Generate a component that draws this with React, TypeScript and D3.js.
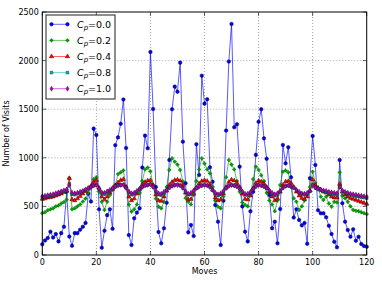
import React, { useEffect, useRef } from "react";
import * as d3 from "d3";

// x positions: one point per move
const moves = d3.range(0, 121);

// Cp = 0.0 (blue)
const cp00 = [
  110, 150, 175, 240, 180, 215, 140, 225, 290, 650, 190, 95, 225, 225, 260, 290, 330, 630, 550, 1300,
  1235, 470, 75, 250, 410, 470, 270, 1130, 1210, 1350, 1600, 1100, 205, 103, 378, 436, 480, 900, 1228, 1098,
  2089, 1502, 700, 237, 120, 275, 538, 978, 1500, 1732, 1680, 1979, 1166, 738, 233, 309, 195, 1139, 823, 1845,
  1557, 1602, 902, 754, 515, 343, 103, 559, 1280, 1990, 2377, 1314, 1345, 909, 500, 240, 140, 450, 650, 1030,
  1370, 1500, 1200, 990, 617, 275, 343, 120, 473, 1132, 943, 1108, 800, 385, 470, 360, 305, 330, 115, 790,
  1225, 926, 460, 429, 429, 388, 300, 216, 137, 79, 978, 532, 343, 257, 188, 264, 147, 188, 113, 93,
  85,
];

// Cp = 0.2 (green)
const cp02 = [
  430, 440, 460, 470, 480, 500, 510, 530, 545, 570, 790, 470, 480, 500, 520, 550, 580, 640, 700, 780,
  800, 650, 548, 463, 548, 617, 669, 720, 833, 850, 870, 700, 520, 446, 470, 520, 640, 760, 880, 900,
  860, 720, 580, 497, 480, 548, 700, 875, 995, 960, 930, 875, 757, 586, 548, 520, 620, 760, 880, 995,
  940, 880, 840, 700, 560, 497, 480, 600, 800, 978, 930, 880, 760, 650, 540, 515, 500, 620, 780, 909,
  875, 820, 760, 640, 560, 520, 450, 560, 720, 857, 870, 850, 700, 583, 548, 463, 500, 560, 620, 700,
  857, 740, 690, 600, 566, 600, 530, 497, 548, 540, 850, 610, 583, 548, 500, 463, 455, 450, 440, 430,
  420,
];

// Cp = 0.4 (red)
const cp04 = [
  575, 580, 590, 595, 600, 610, 620, 630, 645, 660, 790, 570, 560, 580, 605, 630, 655, 680, 710, 750,
  770, 690, 600, 570, 600, 640, 680, 715, 745, 770, 780, 700, 600, 560, 580, 630, 680, 720, 750, 765,
  770, 720, 620, 560, 555, 600, 660, 720, 750, 770, 775, 765, 720, 640, 570, 575, 630, 690, 735, 760,
  770, 760, 730, 670, 590, 560, 570, 630, 700, 750, 775, 765, 740, 700, 630, 575, 570, 610, 690, 740,
  765, 755, 735, 700, 650, 600, 560, 580, 650, 720, 755, 760, 740, 700, 650, 610, 585, 575, 600, 660,
  775, 715, 690, 670, 650, 640, 620, 600, 590, 590, 730, 650, 620, 600, 585, 575, 565, 555, 545, 535,
  525,
];

// Cp = 0.8 (cyan)
const cp08 = [
  595, 600, 605, 610, 615, 625, 635, 645, 655, 665, 730, 625, 620, 630, 640, 655, 670, 685, 700, 715,
  720, 675, 635, 625, 640, 660, 685, 700, 715, 720, 725, 690, 645, 620, 625, 650, 675, 700, 715, 720,
  730, 700, 650, 620, 615, 635, 665, 690, 710, 720, 725, 715, 690, 650, 620, 625, 655, 685, 705, 715,
  720, 715, 700, 665, 630, 610, 620, 650, 685, 710, 720, 715, 705, 680, 645, 620, 615, 640, 675, 705,
  720, 715, 705, 685, 660, 630, 610, 620, 655, 690, 710, 715, 705, 690, 665, 640, 625, 620, 630, 655,
  725, 690, 675, 665, 655, 645, 635, 630, 625, 620, 700, 655, 640, 630, 620, 612, 605, 600, 595, 590,
  585,
];

// Cp = 1.0 (magenta)
const cp10 = [
  605, 610, 615, 620, 625, 635, 645, 655, 665, 675, 720, 640, 635, 640, 650, 660, 675, 690, 700, 715,
  720, 680, 645, 640, 655, 670, 690, 705, 715, 720, 720, 690, 655, 635, 640, 660, 680, 700, 715, 720,
  725, 700, 660, 635, 630, 650, 670, 695, 710, 720, 720, 715, 690, 655, 630, 640, 665, 690, 705, 715,
  720, 715, 700, 670, 640, 625, 635, 660, 690, 710, 720, 715, 705, 685, 655, 630, 630, 650, 680, 705,
  720, 715, 705, 690, 665, 640, 625, 635, 660, 690, 710, 715, 710, 695, 670, 650, 635, 630, 640, 660,
  715, 695, 685, 675, 665, 660, 650, 645, 640, 635, 700, 665, 650, 640, 630, 625, 620, 615, 610, 605,
  600,
];

const cpLabels = ["0.0", "0.2", "0.4", "0.8", "1.0"];
const xTicks = [0, 20, 40, 60, 80, 100, 120];
const yTicks = [0, 500, 1000, 1500, 2000, 2500];

const App = () => {
  const chartRef = useRef<SVGSVGElement>(null);

  useEffect(() => {
    const width = 382;
    const height = 286;
    const margin = { top: 12, right: 15.3, bottom: 31, left: 42.3 };

    const svg = d3.select(chartRef.current);
    svg.selectAll("*").remove();

    svg.append("rect").attr("width", width).attr("height", height).attr("fill", "#fff");

    const x = d3.scaleLinear().domain([0, 120]).range([margin.left, width - margin.right]);
    const y = d3.scaleLinear().domain([0, 2500]).range([height - margin.bottom, margin.top]);

    const font = "DejaVu Sans, sans-serif";

    // grid
    const grid = svg.append("g").attr("stroke", "#000").attr("stroke-width", 0.5)
      .attr("stroke-dasharray", "1,2").attr("opacity", 0.7);
    xTicks.slice(1, -1).forEach((t) => {
      grid.append("line").attr("x1", x(t)).attr("x2", x(t))
        .attr("y1", y(0)).attr("y2", y(2500));
    });
    yTicks.slice(1, -1).forEach((t) => {
      grid.append("line").attr("x1", x(0)).attr("x2", x(120))
        .attr("y1", y(t)).attr("y2", y(t));
    });

    const series = [
      { values: cp00, color: "#0000ff", edge: "#000040", symbol: d3.symbolCircle, size: 10 },
      { values: cp02, color: "#00a000", edge: "#008000", symbol: d3.symbolCross, size: 6 },
      { values: cp04, color: "#ff0000", edge: "#400000", symbol: d3.symbolTriangle, size: 8 },
      { values: cp08, color: "#00bfbf", edge: "#003030", symbol: d3.symbolSquare, size: 7 },
      { values: cp10, color: "#bf00bf", edge: "#300030", symbol: d3.symbolDiamond, size: 7 },
    ];

    const line = d3.line<number>().x((_, i) => x(moves[i])).y((d) => y(d));

    series.forEach((s) => {
      const g = svg.append("g");
      g.append("path")
        .datum(s.values)
        .attr("fill", "none")
        .attr("stroke", s.color)
        .attr("stroke-opacity", 0.65)
        .attr("stroke-width", 1)
        .attr("d", line);
      const sym = d3.symbol().type(s.symbol).size(s.size);
      g.selectAll("path.mk")
        .data(s.values)
        .enter()
        .append("path")
        .attr("class", "mk")
        .attr("transform", (d, i) => `translate(${x(moves[i])},${y(d)})`)
        .attr("d", sym)
        .attr("fill", s.color)
        .attr("stroke", s.edge)
        .attr("stroke-width", 0.5);
    });

    // frame
    svg.append("rect")
      .attr("x", x(0)).attr("y", y(2500))
      .attr("width", x(120) - x(0)).attr("height", y(0) - y(2500))
      .attr("fill", "none").attr("stroke", "#000").attr("stroke-width", 1);

    // ticks (inward, on all sides)
    const ticks = svg.append("g").attr("stroke", "#000").attr("stroke-width", 0.6);
    xTicks.forEach((t) => {
      ticks.append("line").attr("x1", x(t)).attr("x2", x(t)).attr("y1", y(0)).attr("y2", y(0) - 4);
      ticks.append("line").attr("x1", x(t)).attr("x2", x(t)).attr("y1", y(2500)).attr("y2", y(2500) + 4);
      svg.append("text").attr("x", x(t)).attr("y", y(0) + 10)
        .attr("text-anchor", "middle").attr("font-family", font).attr("font-size", 8)
        .text(t);
    });
    yTicks.forEach((t) => {
      ticks.append("line").attr("x1", x(0)).attr("x2", x(0) + 4).attr("y1", y(t)).attr("y2", y(t));
      ticks.append("line").attr("x1", x(120)).attr("x2", x(120) - 4).attr("y1", y(t)).attr("y2", y(t));
      svg.append("text").attr("x", x(0) - 3.5).attr("y", y(t) + 3)
        .attr("text-anchor", "end").attr("font-family", font).attr("font-size", 8)
        .text(t);
    });

    // axis labels
    svg.append("text").attr("x", (x(0) + x(120)) / 2).attr("y", 274)
      .attr("text-anchor", "middle").attr("font-family", font).attr("font-size", 8)
      .text("Moves");
    svg.append("text")
      .attr("transform", `translate(9,${(y(0) + y(2500)) / 2}) rotate(-90)`)
      .attr("text-anchor", "middle").attr("font-family", font).attr("font-size", 8)
      .text("Number of Visits");

    // legend
    const lg = svg.append("g");
    lg.append("rect").attr("x", 46).attr("y", 15).attr("width", 69).attr("height", 84)
      .attr("fill", "#fff").attr("stroke", "#444").attr("stroke-width", 1.2);
    series.forEach((s, i) => {
      const ly = 24.3 + i * 16.1;
      lg.append("line").attr("x1", 51.5).attr("x2", 67.5).attr("y1", ly).attr("y2", ly)
        .attr("stroke", s.color).attr("stroke-opacity", 0.6).attr("stroke-width", 1);
      const sym = d3.symbol().type(s.symbol).size(s.size);
      [51.5, 67.5].forEach((lx) => {
        lg.append("path").attr("transform", `translate(${lx},${ly})`).attr("d", sym)
          .attr("fill", s.color).attr("stroke", s.edge).attr("stroke-width", 0.5);
      });
      const txt = lg.append("text").attr("x", 77).attr("y", ly + 3.5)
        .attr("font-family", font).attr("font-size", 9.5);
      txt.append("tspan").attr("font-style", "italic").text("C");
      txt.append("tspan").attr("font-style", "italic").attr("font-size", 7).attr("dy", 2).text("p");
      txt.append("tspan").attr("dy", -2).text("=" + cpLabels[i]);
    });
  }, []);

  return (
    <svg
      ref={chartRef}
      width={382}
      height={286}
      style={{ position: "absolute", left: 0, top: 0, display: "block" }}
    />
  );
};

export default App;
